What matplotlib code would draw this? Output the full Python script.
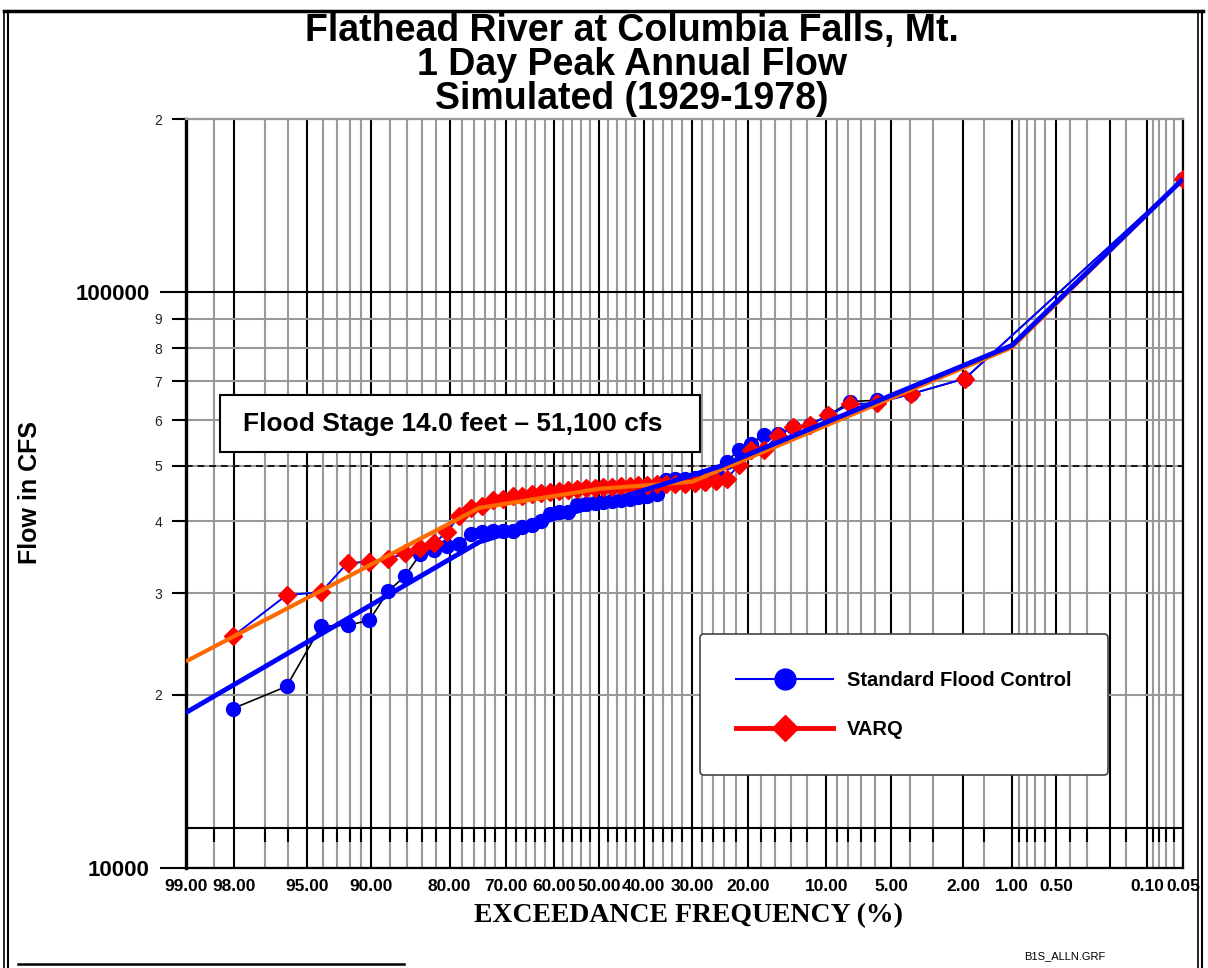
from statistics import NormalDist

import matplotlib
matplotlib.use("Agg")
import matplotlib.pyplot as plt
import numpy as np
from matplotlib.lines import Line2D
from matplotlib.patches import Rectangle

# exceedance plotting positions (%) and 1-day peak flows (cfs)
exceed_pct = [98.04, 96.08, 94.12, 92.16, 90.20, 88.24, 86.27, 84.31, 82.35, 80.39,
              78.43, 76.47, 74.51, 72.55, 70.59, 68.63, 66.67, 64.71, 62.75, 60.78,
              58.82, 56.86, 54.90, 52.94, 50.98, 49.02, 47.06, 45.10, 43.14, 41.18,
              39.22, 37.25, 35.29, 33.33, 31.37, 29.41, 27.45, 25.49, 23.53, 21.57,
              19.61, 17.65, 15.69, 13.73, 11.76, 9.80, 7.84, 5.88, 3.92, 1.96, 0.05]

standard_cfs = [18920, 20670, 26300, 26400, 26930, 30260, 32140, 35100, 35660, 36250,
                36540, 38020, 38300, 38460, 38460, 38460, 39080, 39400, 40040, 41210,
                41550, 41550, 42720, 42890, 43060, 43230, 43410, 43580, 43760, 44110,
                44290, 44650, 47260, 47350, 47450, 47640, 48030, 48680, 50770, 53280,
                54600, 56560, 56700, 58390, 58860, 61130, 64590, 64930, 66600, 70830, 157300]

varq_cfs = [25260, 29780, 30140, 33900, 34000, 34400, 35240, 35950, 36680, 38340,
            40880, 42210, 42550, 43600, 43770, 44300, 44300, 44650, 44830, 45010,
            45190, 45380, 45560, 45750, 45750, 45930, 45930, 46120, 46120, 46310,
            46310, 46400, 46500, 46500, 46500, 46600, 46880, 47070, 47450, 50130,
            53150, 53200, 56360, 58390, 58860, 61130, 63920, 64180, 66600, 70830, 157300]

# fitted frequency curves
std_fit_pct = [99, 75, 25, 1, 0.05]
std_fit_cfs = [18620, 36830, 49760, 80860, 157300]
varq_fit_pct = [99, 75, 50, 30, 1, 0.05]
varq_fit_cfs = [22850, 42210, 45560, 46860, 80210, 157300]

flood_stage_cfs = 50000

x_labels = [99, 98, 95, 90, 80, 70, 60, 50, 40, 30, 20, 10, 5, 2, 1, 0.5, 0.2, 0.1, 0.05]
x_gray = [98.5, 97, 96, 94, 93, 92, 91, 88, 86, 84, 82, 78, 76, 74, 72, 68, 66, 64, 62,
          58, 56, 54, 52, 48, 46, 44, 42, 38, 36, 34, 32, 28, 26, 24, 22, 18, 16, 14, 12,
          9, 8, 7, 6, 4, 3, 1.5, 0.9, 0.8, 0.7, 0.6, 0.4, 0.3, 0.15, 0.09, 0.08, 0.07, 0.06]
y_minor = [20000, 30000, 40000, 50000, 60000, 70000, 80000, 90000, 200000]
y_minor_labels = ["2", "3", "4", "5", "6", "7", "8", "9", "2"]

SANS = ["Liberation Sans", "DejaVu Sans"]
SERIF = ["Liberation Serif", "DejaVu Serif"]
GRAY = "#999999"

nd = NormalDist()


def prob_fwd(P):
    p = np.clip(np.asarray(P, float) / 100.0, 1e-12, 1 - 1e-12)
    p = np.where(np.isnan(p), 0.5, p)
    return np.vectorize(nd.inv_cdf, otypes=[float])(p)


def prob_inv(z):
    z = np.asarray(z, float)
    return 100.0 * np.vectorize(nd.cdf, otypes=[float])(z)


W, H = 1208, 968
fig = plt.figure(figsize=(W / 100, H / 100), dpi=100)
ax = fig.add_axes([186 / W, 1 - 868 / H, 997 / W, 749 / H])
ax.set_xscale("function", functions=(prob_fwd, prob_inv))
ax.set_yscale("log")
ax.set_xlim(99, 0.05)
ax.set_ylim(10000, 200000)

# grid
ax.set_xticks(x_labels)
ax.set_xticklabels(["%.2f" % v if v != 0.2 else "" for v in x_labels],
                   fontfamily=SANS, fontweight="bold", fontsize=12.5)
ax.set_xticks(x_gray, minor=True)
ax.set_yticks([10000, 100000])
ax.set_yticklabels(["10000", "100000"], fontfamily=SANS, fontweight="bold", fontsize=16)
ax.set_yticks(y_minor, minor=True)
ax.set_yticklabels(y_minor_labels, minor=True, fontfamily=SANS, fontsize=10, color="#222222")
ax.tick_params(axis="x", which="both", length=0, pad=8)
ax.tick_params(axis="y", which="major", length=19, width=1.5, pad=7)
ax.tick_params(axis="y", which="minor", length=10, width=1.5, pad=7)

ax.grid(True, axis="x", which="major", color="black", lw=1.5)
ax.grid(True, axis="x", which="minor", color=GRAY, lw=1.5)
ax.grid(True, axis="y", which="major", color="black", lw=1.5)
ax.grid(True, axis="y", which="minor", color=GRAY, lw=1.5)
ax.set_axisbelow(True)

# bottom tick band
ax.axhline(11740, color="black", lw=1.5, zorder=1)
ax.vlines(x_gray, 11100, 11740, color="black", lw=1.5, zorder=1)

ax.spines["left"].set_linewidth(2.4)
for side in ["bottom", "right"]:
    ax.spines[side].set_linewidth(1.6)
ax.spines["top"].set_color(GRAY)
ax.spines["top"].set_linewidth(1.6)

# flood stage
ax.axhline(flood_stage_cfs, color="black", lw=1.2, ls=(0, (4, 3)), zorder=2)
ax.add_patch(Rectangle((0.0341, 0.5554), 0.4814, 0.0761, transform=ax.transAxes,
                       facecolor="white", edgecolor="black", lw=1.5, zorder=5))
ax.text(0.0572, 0.5934, "Flood Stage 14.0 feet \u2013 51,100 cfs", transform=ax.transAxes,
        ha="left", va="center", fontfamily=SANS, fontweight="bold", fontsize=19, zorder=6)

# data
ax.plot(exceed_pct, standard_cfs, color="black", lw=1.2, marker="o", ms=10,
        mfc="blue", mec="blue", zorder=3)
ax.plot(exceed_pct, varq_cfs, color="blue", lw=1.4, marker="D", ms=9,
        mfc="red", mec="red", zorder=4)
ax.plot(varq_fit_pct, varq_fit_cfs, color="#FF6A00", lw=3, zorder=4, solid_capstyle="butt")
ax.plot(std_fit_pct, std_fit_cfs, color="blue", lw=3.5, zorder=4, solid_capstyle="butt")

# legend
handles = [Line2D([], [], color="blue", lw=1.5, marker="o", ms=15, mfc="blue", mec="blue"),
           Line2D([], [], color="red", lw=3.5, marker="D", ms=13, mfc="red", mec="red")]
leg = ax.legend(handles, ["Standard Flood Control", "VARQ"], loc="lower left",
                bbox_to_anchor=(0.5155, 0.124), prop={"family": SANS, "weight": "bold", "size": 14.5},
                handlelength=4.8, handletextpad=0.7, labelspacing=1.5, borderpad=1.8,
                borderaxespad=0, fancybox=True, framealpha=1, edgecolor="#444444")
leg.get_frame().set_linewidth(1.2)
leg.set_zorder(7)

# titles and labels
for txt, yb in [("Flathead River at Columbia Falls, Mt.", 41),
                ("1 Day Peak Annual Flow", 75),
                ("Simulated (1929-1978)", 109)]:
    fig.text(632 / W, 1 - yb / H, txt, ha="center", va="baseline",
             fontfamily=SANS, fontweight="bold", fontsize=27)
fig.text(688 / W, 1 - 922 / H, "EXCEEDANCE FREQUENCY (%)", ha="center", va="baseline",
         fontfamily=SERIF, fontweight="bold", fontsize=20)
fig.text(30 / W, 1 - 493 / H, "Flow in CFS", ha="center", va="center", rotation=90,
         fontfamily=SANS, fontweight="bold", fontsize=18)
fig.text(1065 / W, 1 - 956 / H, "B1S_ALLN.GRF", ha="center", va="center",
         fontfamily=SANS, fontsize=8)


# page border
def fig_line(xs, ys, lw):
    fig.add_artist(Line2D([x / W for x in xs], [1 - y / H for y in ys],
                          color="black", lw=lw, transform=fig.transFigure))


fig_line([4, 1203], [11, 11], 2.5)
fig_line([4, 4], [11, 968], 1.2)
fig_line([8, 8], [11, 968], 1.5)
fig_line([1198, 1198], [11, 968], 1.2)
fig_line([1202, 1202], [11, 968], 1.5)
fig_line([18, 404], [964, 964], 1.8)

fig.savefig("out.png", dpi=100)
